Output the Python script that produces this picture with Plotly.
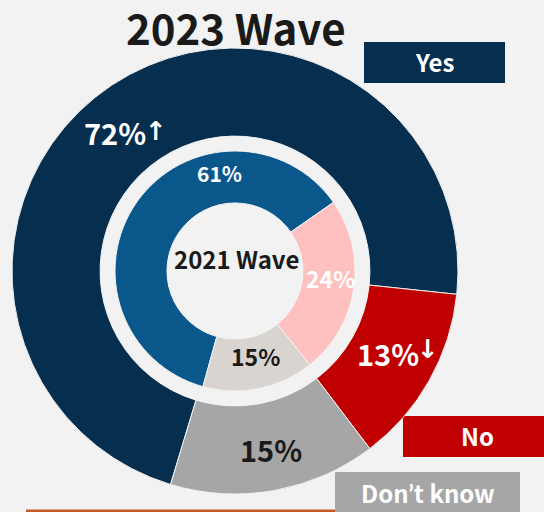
import plotly.graph_objects as go

# Survey answers, two waves
categories = ["Yes", "No", "Don't know"]
wave_2023 = [72, 13, 15]
wave_2021 = [61, 24, 15]
change_2023 = ["↑", "↓", ""]

outer_colors = ["#062e4e", "#c00000", "#a6a6a6"]
inner_colors = ["#0a578c", "#ffc0c0", "#d9d4cf"]
outer_text_colors = ["#ffffff", "#ffffff", "#1a1a1a"]
inner_text_colors = ["#ffffff", "#ffffff", "#1a1a1a"]

BG = "#f2f2f2"
FONT = "Noto Sans CJK SC, Source Sans Pro, sans-serif"
ARROW_FONT = "DejaVu Sans, sans-serif"
W, H = 544, 512


def px(x):
    return x / W


def py(y):
    return 1 - y / H


fig = go.Figure()

fig.add_trace(go.Pie(
    labels=categories, values=wave_2023, sort=False, direction="clockwise",
    rotation=196.8, hole=0.605,
    domain=dict(x=[px(12), px(458)], y=[py(494), py(48)]),
    marker=dict(colors=outer_colors, line=dict(color=BG, width=1)),
    textinfo="none", showlegend=False, hoverinfo="label+value",
))

fig.add_trace(go.Pie(
    labels=categories, values=wave_2021, sort=False, direction="clockwise",
    rotation=195.5, hole=0.567,
    domain=dict(x=[px(115), px(355)], y=[py(391), py(151)]),
    marker=dict(colors=inner_colors, line=dict(color=BG, width=1)),
    textinfo="none", showlegend=False, hoverinfo="label+value",
))

shapes = [
    dict(type="rect", xref="paper", yref="paper", x0=px(364), x1=px(505), y0=py(83), y1=py(42),
         fillcolor=outer_colors[0], line=dict(width=0), layer="below"),
    dict(type="rect", xref="paper", yref="paper", x0=px(403), x1=px(546), y0=py(457), y1=py(416),
         fillcolor=outer_colors[1], line=dict(width=0), layer="below"),
    dict(type="rect", xref="paper", yref="paper", x0=px(335), x1=px(520), y0=py(516), y1=py(472),
         fillcolor=outer_colors[2], line=dict(width=0), layer="below"),
    dict(type="rect", xref="paper", yref="paper", x0=px(26), x1=px(335), y0=py(516), y1=py(509.5),
         fillcolor="#c55a28", line=dict(width=0), layer="below"),
]


def label(text, x, y, size, color, family=FONT):
    return dict(text=text, x=px(x), y=py(y), xref="paper", yref="paper",
                xanchor="center", yanchor="middle", showarrow=False,
                font=dict(family=family, size=size, color=color, weight=700))


# slice value labels and change arrows
outer_pos = [(114.5, 132), (387.5, 353), (271, 449)]
arrow_pos = [(156, 131), (428, 349), None]
inner_pos = [(219, 173), (330, 278), (255, 356)]
inner_sizes = [21, 23, 23]

annotations = [
    label("2023 Wave", 235.5, 26, 42, "#1a1a1a"),
    label("2021 Wave", 236, 258, 24, "#1a1a1a"),
    label(categories[0], 434.5, 61, 24, "#ffffff"),
    label(categories[1], 477, 435, 24, "#ffffff"),
    label("Don<span style='font-family:Lato'>’</span>t know", 427.5, 492, 24, "#ffffff"),
]
for v, a, (x, y), ap, c in zip(wave_2023, change_2023, outer_pos, arrow_pos, outer_text_colors):
    annotations.append(label(f"{v}%", x, y, 29, c))
    if a:
        annotations.append(label(a, ap[0], ap[1], 26, c, ARROW_FONT))
for v, (x, y), s, c in zip(wave_2021, inner_pos, inner_sizes, inner_text_colors):
    annotations.append(label(f"{v}%", x, y, s, c))

fig.update_layout(
    width=W, height=H, margin=dict(l=0, r=0, t=0, b=0),
    paper_bgcolor=BG, plot_bgcolor=BG,
    shapes=shapes, annotations=annotations,
)

fig.write_html("out.html")
